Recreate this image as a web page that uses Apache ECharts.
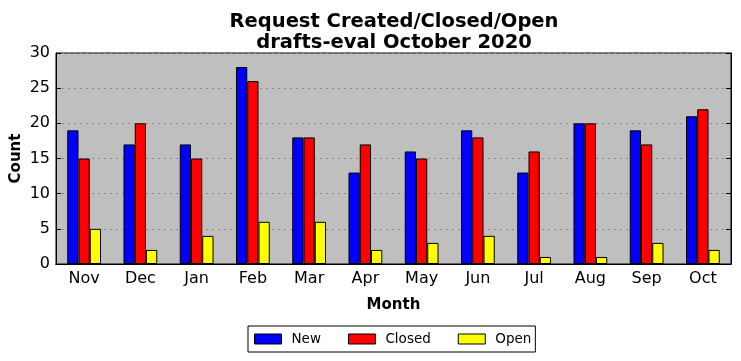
<!DOCTYPE html>
<html><head><meta charset="utf-8">
<script src="https://cdn.jsdelivr.net/npm/echarts@6/dist/echarts.min.js"></script>
<style>html,body{margin:0;padding:0;background:#fff}#c{width:741px;height:361px}</style>
</head><body><div id="c"></div>
<script>
const months = ['Nov','Dec','Jan','Feb','Mar','Apr','May','Jun','Jul','Aug','Sep','Oct'];
const newVals = [19,17,17,28,18,13,16,19,13,20,19,21];
const closedVals = [15,20,15,26,18,17,15,18,16,20,17,22];
const openVals = [5,2,4,6,6,2,3,4,1,1,3,2];
const yTicks = [0,5,10,15,20,25,30];

const FONT = 'DejaVu Sans';
const chart = echarts.init(document.getElementById('c'), null, {renderer:'canvas'});
function bar(name, data, color){
  return {name, type:'bar', data, barWidth:'20%', barGap:'0%', xAxisIndex:0, yAxisIndex:0,
    itemStyle:{color, borderColor:'#000', borderWidth:1}, emphasis:{disabled:true}};
}
chart.setOption({
  animation:false,
  textStyle:{fontFamily:FONT},
  title:{text:'Request Created/Closed/Open\ndrafts-eval October 2020', left:389, textAlign:'center', top:6,
    textStyle:{fontFamily:FONT, fontWeight:'bold', fontSize:19.5, lineHeight:21.5, color:'#000'}},
  grid:{left:56, right:10, top:53, bottom:97, containLabel:false, outerBoundsMode:'none', show:true, backgroundColor:'#bfbfbf', borderColor:'#000', borderWidth:1},
  legend:{left:248, top:326, orient:'horizontal', itemWidth:27, itemHeight:10, itemGap:27,
    padding:[6,4,6,6], borderColor:'#000', borderWidth:1, backgroundColor:'#fff',
    icon:'rect', textStyle:{fontFamily:FONT, fontSize:13.5, color:'#000', padding:[0,0,0,5]},
    itemStyle:{borderColor:'#000', borderWidth:1}},
  xAxis:[{type:'category', data:months, name:'Month', nameLocation:'middle', nameGap:34, nameMoveOverlap:false,
    nameTextStyle:{fontFamily:FONT, fontWeight:'bold', fontSize:15, color:'#000'},
    axisLine:{lineStyle:{color:'#000'}}, axisTick:{inside:true, length:5, alignWithLabel:true, lineStyle:{color:'#000'}},
    axisLabel:{fontFamily:FONT, fontSize:16, color:'#000', margin:7}, splitLine:{show:false}},
   {type:'category', data:months, position:'top', axisLine:{lineStyle:{color:'#000'}},
    axisTick:{inside:true, length:5, alignWithLabel:true, lineStyle:{color:'#000'}}, axisLabel:{show:false}}],
  yAxis:[{type:'value', min:yTicks[0], max:yTicks[yTicks.length-1], interval:5, name:'Count', nameLocation:'middle', nameGap:32, nameMoveOverlap:false,
    nameTextStyle:{fontFamily:FONT, fontWeight:'bold', fontSize:15, color:'#000'},
    axisLine:{show:true, lineStyle:{color:'#000'}}, axisTick:{show:true, inside:true, length:5, lineStyle:{color:'#000'}},
    axisLabel:{fontFamily:FONT, fontSize:16, color:'#000', margin:6},
    splitLine:{show:true, lineStyle:{color:'#8a8a8a', type:[2,4], width:1}}},
   {type:'value', min:0, max:30, interval:5, position:'right', axisLine:{show:true, lineStyle:{color:'#000'}},
    axisTick:{show:true, inside:true, length:5, lineStyle:{color:'#000'}}, axisLabel:{show:false}, splitLine:{show:false}}],
  series:[bar('New', newVals, '#0000ff'), bar('Closed', closedVals, '#ff0000'), bar('Open', openVals, '#ffff00')]
});
</script></body></html>
